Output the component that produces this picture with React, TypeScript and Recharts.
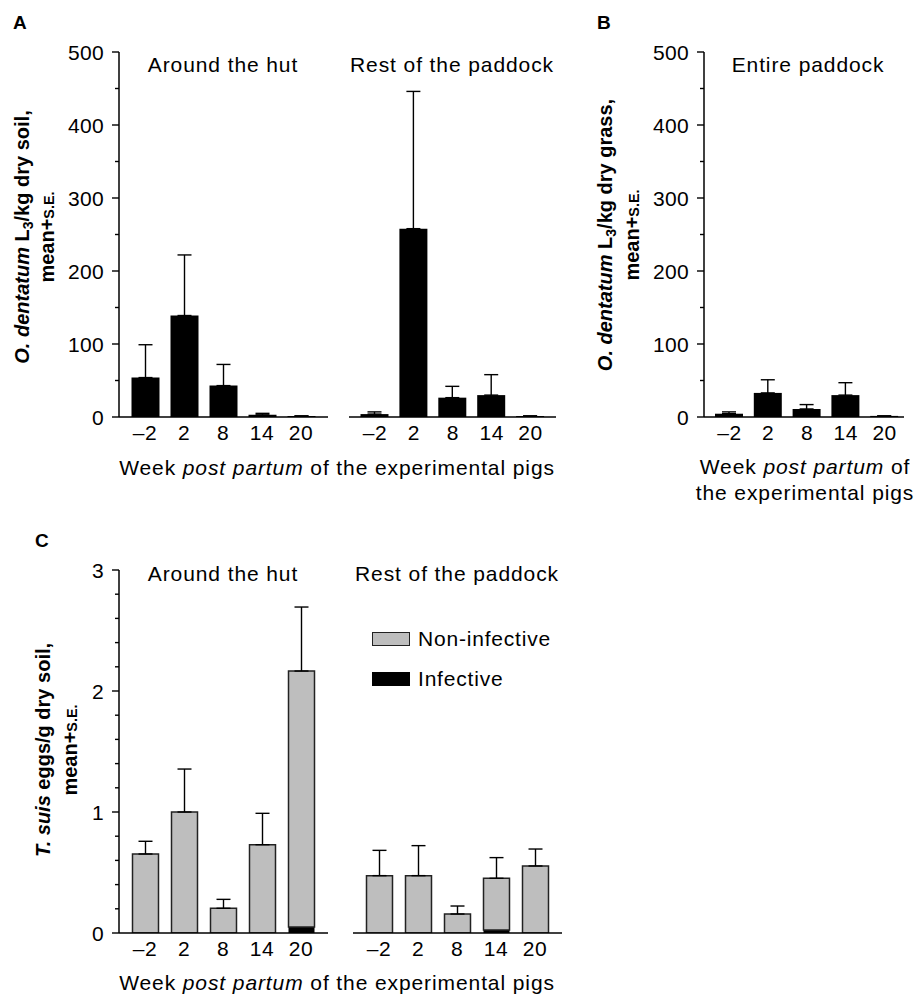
import React from 'react';
import { BarChart, Bar, XAxis, YAxis, ErrorBar, Legend } from 'recharts';

// ---------- data ----------
const weeks = ['\u20132', '2', '8', '14', '20'];

// Panel A: O. dentatum L3 / kg dry soil
const soilHutMean = [54, 139, 43, 3, 1.5];
const soilHutSE = [45, 83, 29, 2, 0];
const soilRestMean = [4, 258, 26.5, 30, 1.5];
const soilRestSE = [3, 188, 15.5, 28, 0];

// Panel B: O. dentatum L3 / kg dry grass
const grassMean = [4.5, 33, 11, 30, 1.5];
const grassSE = [2.5, 18, 6, 17, 0];

// Panel C: T. suis eggs / g dry soil
const eggsHutNonInfective = [0.653, 1.0, 0.204, 0.73, 2.115];
const eggsHutInfective = [0, 0, 0, 0, 0.05];
const eggsHutSE = [0.105, 0.355, 0.074, 0.259, 0.529];
const eggsRestNonInfective = [0.474, 0.474, 0.157, 0.427, 0.554];
const eggsRestInfective = [0, 0, 0, 0.025, 0];
const eggsRestSE = [0.209, 0.248, 0.066, 0.171, 0.14];

const larvaeTicks = [0, 50, 100, 150, 200, 250, 300, 350, 400, 450, 500];
const eggTicks = [0, 0.2, 0.4, 0.6, 0.8, 1, 1.2, 1.4, 1.6, 1.8, 2, 2.2, 2.4, 2.6, 2.8, 3];

const legendItems = [
  { label: 'Non-infective', fill: '#bebebe', stroke: '#222' },
  { label: 'Infective', fill: '#000', stroke: '#000' },
];

// ---------- helpers ----------
const PAGE_W = 917;
const PAGE_H = 998;
const YW = 60;
const XH = 40;
const FONT = '"Liberation Sans", Arial, Helvetica, sans-serif';
const GRAY = '#bebebe';

type Rect = { x0: number; y0: number; x1: number; y1: number };

const simpleData = (mean: number[], se: number[]) =>
  weeks.map((w, i) => ({ week: w, mean: mean[i], err: [0, se[i]] }));

const stackData = (non: number[], inf: number[], se: number[]) =>
  weeks.map((w, i) => ({ week: w, non: non[i], inf: inf[i], err: [0, se[i]] }));

const marginFor = (r: Rect, showY: boolean) => ({
  top: r.y0,
  bottom: PAGE_H - r.y1 - XH,
  left: r.x0 - (showY ? YW : 0),
  right: PAGE_W - r.x1,
});

const makeYTick = (isMajor: (v: number) => boolean, fmt: (v: number) => string) =>
  (props: any) => {
    const { x, y, payload } = props;
    const major = isMajor(payload.value);
    return (
      <g>
        <line x1={x - (major ? 7 : 4)} x2={x} y1={y} y2={y} stroke="#000" strokeWidth={1.4} />
        {major && (
          <text x={x - 15} y={y} dy="0.36em" textAnchor="end" fontSize={21} fontFamily={FONT} fill="#000" letterSpacing={0.3}>
            {fmt(payload.value)}
          </text>
        )}
      </g>
    );
  };

const larvaeTick = makeYTick((v) => v % 100 === 0, (v) => String(v));
const eggTick = makeYTick((v) => Math.abs(v - Math.round(v)) < 1e-6, (v) => String(Math.round(v)));

const XTick = (props: any) => {
  const { x, y, payload } = props;
  return (
    <text x={x} y={y + 23} textAnchor="middle" fontSize={21} fontFamily={FONT} fill="#000" letterSpacing={0.5}>
      {payload.value}
    </text>
  );
};

const axisLine = { stroke: '#000', strokeWidth: 1.5 };

const Abs: React.FC<{ children: React.ReactNode }> = ({ children }) => (
  <div style={{ position: 'absolute', left: 0, top: 0 }}>{children}</div>
);

const Txt: React.FC<{
  x: number; y: number; children: React.ReactNode; size?: number; bold?: boolean;
  rotate?: boolean; align?: 'center' | 'left'; ls?: number; lh?: number;
}> = ({ x, y, children, size = 21, bold = false, rotate = false, align = 'center', ls = 0.9, lh = 1 }) => (
  <div
    style={{
      position: 'absolute',
      left: x,
      top: y,
      transform: `translate(${align === 'center' ? '-50%' : '0'}, -50%)${rotate ? ' rotate(-90deg)' : ''}`,
      whiteSpace: 'nowrap',
      fontFamily: FONT,
      fontSize: size,
      fontWeight: bold ? 'bold' : 'normal',
      letterSpacing: ls,
      lineHeight: typeof lh === 'number' && lh > 3 ? `${lh}px` : lh,
      textAlign: 'center',
      color: '#000',
    }}
  >
    {children}
  </div>
);

const Sub3 = () => (
  <sub style={{ fontSize: '0.7em', verticalAlign: '-0.3em', lineHeight: 0 }}>3</sub>
);

const WeekTitle = () => (
  <>
    Week <i>post partum</i> of the experimental pigs
  </>
);

// ---------- panels ----------
const SimplePanel: React.FC<{ rect: Rect; data: any[]; showY: boolean; padL: number; padR: number }> = ({
  rect, data, showY, padL, padR,
}) => (
  <Abs>
    <BarChart width={PAGE_W} height={PAGE_H} data={data} margin={marginFor(rect, showY)} barCategoryGap={0}>
      <XAxis
        dataKey="week"
        type="category"
        height={XH}
        padding={{ left: padL, right: padR }}
        axisLine={axisLine}
        tickLine={false}
        tickSize={0}
        tickMargin={0}
        tick={<XTick />}
        interval={0}
      />
      <YAxis
        type="number"
        domain={[0, 500]}
        ticks={larvaeTicks}
        hide={!showY}
        width={YW}
        axisLine={axisLine}
        tickLine={false}
        tickSize={0}
        tickMargin={0}
        tick={larvaeTick}
        interval={0}
        allowDataOverflow
      />
      <Bar dataKey="mean" fill="#000" barSize={28} isAnimationActive={false}>
        <ErrorBar dataKey="err" width={7} stroke="#000" strokeWidth={1.4} direction="y" />
      </Bar>
    </BarChart>
  </Abs>
);

const EggPanel: React.FC<{ rect: Rect; data: any[]; showY: boolean; padL: number; padR: number; legend?: boolean }> = ({
  rect, data, showY, padL, padR, legend,
}) => (
  <Abs>
    <BarChart width={PAGE_W} height={PAGE_H} data={data} margin={marginFor(rect, showY)} barCategoryGap={0}>
      <XAxis
        dataKey="week"
        type="category"
        height={XH}
        padding={{ left: padL, right: padR }}
        axisLine={axisLine}
        tickLine={false}
        tickSize={0}
        tickMargin={0}
        tick={<XTick />}
        interval={0}
      />
      <YAxis
        type="number"
        domain={[0, 3]}
        ticks={eggTicks}
        hide={!showY}
        width={YW}
        axisLine={axisLine}
        tickLine={false}
        tickSize={0}
        tickMargin={0}
        tick={eggTick}
        interval={0}
        allowDataOverflow
      />
      <Bar dataKey="inf" stackId="s" fill="#000" barSize={26} isAnimationActive={false} />
      <Bar dataKey="non" stackId="s" fill={GRAY} stroke="#222" strokeWidth={1.5} barSize={26} isAnimationActive={false}>
        <ErrorBar dataKey="err" width={7} stroke="#000" strokeWidth={1.4} direction="y" />
      </Bar>
      {legend && (
        <Legend
          layout="vertical"
          align="center"
          verticalAlign="middle"
          wrapperStyle={{ position: 'absolute', left: 372, top: 626, width: 200, height: 70 }}
          content={() => (
            <div style={{ fontFamily: FONT, fontSize: 21, letterSpacing: 0.8 }}>
              {legendItems.map((it, i) => (
                <div key={it.label} style={{ display: 'flex', alignItems: 'center', height: 26, marginBottom: i === 0 ? 14 : 0 }}>
                  <span
                    style={{
                      display: 'inline-block',
                      width: 36,
                      height: 12,
                      background: it.fill,
                      border: `1.5px solid ${it.stroke}`,
                      marginRight: 8,
                    }}
                  />
                  <span>{it.label}</span>
                </div>
              ))}
            </div>
          )}
        />
      )}
    </BarChart>
  </Abs>
);

export default function App() {
  const hutA = simpleData(soilHutMean, soilHutSE);
  const restA = simpleData(soilRestMean, soilRestSE);
  const grassB = simpleData(grassMean, grassSE);
  const hutC = stackData(eggsHutNonInfective, eggsHutInfective, eggsHutSE);
  const restC = stackData(eggsRestNonInfective, eggsRestInfective, eggsRestSE);

  return (
    <div
      style={{
        position: 'absolute',
        left: 0,
        top: 0,
        width: PAGE_W,
        height: PAGE_H,
        background: '#fff',
        overflow: 'hidden',
        fontFamily: FONT,
      }}
    >
      <SimplePanel rect={{ x0: 119, y0: 52, x1: 328, y1: 417 }} data={hutA} showY padL={6.5} padR={7.5} />
      <SimplePanel rect={{ x0: 349, y0: 52, x1: 556, y1: 417 }} data={restA} showY={false} padL={6.5} padR={6} />
      <SimplePanel rect={{ x0: 704, y0: 52, x1: 904, y1: 417 }} data={grassB} showY padL={6} padR={0} />
      <EggPanel rect={{ x0: 119, y0: 570, x1: 328, y1: 933 }} data={hutC} showY padL={6.5} padR={7.5} />
      <EggPanel rect={{ x0: 353, y0: 570, x1: 562, y1: 933 }} data={restC} showY={false} padL={6.5} padR={7.5} legend />

      {/* panel letters */}
      <Txt x={13} y={22} size={19} bold align="left" ls={0}>A</Txt>
      <Txt x={597} y={22} size={19} bold align="left" ls={0}>B</Txt>
      <Txt x={35} y={540} size={19} bold align="left" ls={0}>C</Txt>

      {/* subplot titles */}
      <Txt x={223} y={64}>Around the hut</Txt>
      <Txt x={452} y={64}>Rest of the paddock</Txt>
      <Txt x={808} y={64}>Entire paddock</Txt>
      <Txt x={223} y={573}>Around the hut</Txt>
      <Txt x={457} y={573}>Rest of the paddock</Txt>

      {/* y-axis titles */}
      <Txt x={36} y={237} size={20} bold rotate ls={0} lh={25}>
        <div><i>O. dentatum</i> L<Sub3 />/kg dry soil,</div>
        <div>mean+<span style={{ fontSize: '0.72em' }}>S.E.</span></div>
      </Txt>
      <Txt x={620} y={235} size={20} bold rotate ls={0} lh={27}>
        <div><i>O. dentatum</i> L<Sub3 />/kg dry grass,</div>
        <div>mean+<span style={{ fontSize: '0.72em' }}>S.E.</span></div>
      </Txt>
      <Txt x={58} y={750} size={20} bold rotate ls={0} lh={27}>
        <div><i>T. suis</i> eggs/g dry soil,</div>
        <div>mean+<span style={{ fontSize: '0.72em' }}>S.E.</span></div>
      </Txt>

      {/* x-axis titles */}
      <Txt x={337} y={467}><WeekTitle /></Txt>
      <Txt x={805} y={480} lh={26}>
        <div>Week <i>post partum</i> of</div>
        <div>the experimental pigs</div>
      </Txt>
      <Txt x={337} y={982}><WeekTitle /></Txt>
    </div>
  );
}
